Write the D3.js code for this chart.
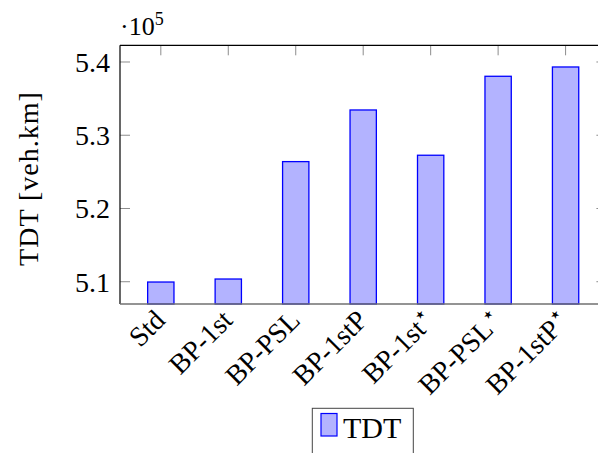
<!DOCTYPE html>
<html>
<head>
<meta charset="utf-8">
<script src="https://cdn.jsdelivr.net/npm/d3@7"></script>
<style>
  html, body { margin: 0; padding: 0; background: #fff; }
  svg { display: block; }
  text { font-family: "Liberation Serif", "DejaVu Serif", serif; fill: #000; }
</style>
</head>
<body>
<script>
// ---- data ----
const categories = ["Std", "BP-1st", "BP-PSL", "BP-1stP", "BP-1st", "BP-PSL", "BP-1stP"];
const starred = [false, false, false, false, true, true, true];
const tdtValues = [5.0996, 5.1037, 5.2640, 5.3345, 5.2727, 5.3805, 5.3932]; // x 10^5 veh.km
const yTicks = [5.1, 5.2, 5.3, 5.4];
const yTickLabels = ["5.1", "5.2", "5.3", "5.4"];
const seriesName = "TDT";
const yLabel = "TDT [veh.km]";

const W = 598, H = 453;
const pLeft = 120, pRight = 606.4, pTop = 45.3, pBottom = 304;

const svg = d3.select("body").append("svg").attr("width", W).attr("height", H);

const x = d3.scaleBand().domain(d3.range(categories.length))
  .range([pLeft, pRight]).paddingInner(0.61).paddingOuter(0.41);
const y = d3.scaleLinear().domain([5.0696, 5.4228]).range([pBottom, pTop]);

const FS = 28;

// bars
svg.append("g").selectAll("rect").data(tdtValues).join("rect")
  .attr("x", (d, i) => x(i))
  .attr("width", x.bandwidth())
  .attr("y", d => y(d))
  .attr("height", d => pBottom - y(d))
  .attr("fill", "#b3b3ff")
  .attr("stroke", "#0000ff")
  .attr("stroke-width", 1.3);

// ticks y (left & right)
const tickCol = "#8c8c8c";
const tl = 10;
svg.append("g").selectAll("line").data(yTicks).join("line")
  .attr("x1", pLeft).attr("x2", pLeft + tl)
  .attr("y1", d => y(d)).attr("y2", d => y(d))
  .attr("stroke", tickCol).attr("stroke-width", 1);
svg.append("g").selectAll("line").data(yTicks).join("line")
  .attr("x1", pRight).attr("x2", pRight - tl)
  .attr("y1", d => y(d)).attr("y2", d => y(d))
  .attr("stroke", tickCol).attr("stroke-width", 1);
// top x ticks
svg.append("g").selectAll("line").data(d3.range(categories.length)).join("line")
  .attr("x1", i => x(i) + x.bandwidth() / 2).attr("x2", i => x(i) + x.bandwidth() / 2)
  .attr("y1", pTop).attr("y2", pTop + tl)
  .attr("stroke", tickCol).attr("stroke-width", 1);

// axis lines
svg.append("line").attr("x1", pLeft).attr("x2", pRight).attr("y1", pTop).attr("y2", pTop)
  .attr("stroke", "#000").attr("stroke-width", 1.2);
svg.append("line").attr("x1", pLeft).attr("x2", pLeft).attr("y1", pTop).attr("y2", pBottom)
  .attr("stroke", "#000").attr("stroke-width", 1.2);
svg.append("line").attr("x1", pRight).attr("x2", pRight).attr("y1", pTop).attr("y2", pBottom)
  .attr("stroke", "#000").attr("stroke-width", 1.2);
svg.append("line").attr("x1", pLeft).attr("x2", pRight).attr("y1", pBottom).attr("y2", pBottom)
  .attr("stroke", "#707070").attr("stroke-width", 1.5);

// y tick labels
svg.append("g").selectAll("text").data(yTicks).join("text")
  .attr("x", pLeft - 10).attr("y", d => y(d))
  .attr("dy", "0.35em")
  .attr("text-anchor", "end")
  .attr("font-size", FS)
  .text((d, i) => yTickLabels[i]);

// multiplier
const mult = svg.append("text").attr("x", pLeft).attr("y", 35).attr("font-size", 26);
mult.append("tspan").text("·10");
mult.append("tspan").attr("font-size", 18).attr("dy", -10).text("5");

// x tick labels
const xl = svg.append("g").selectAll("text").data(categories).join("text")
  .attr("text-anchor", "end")
  .attr("font-size", FS)
  .attr("transform", (d, i) => `translate(${x(i) + x.bandwidth() / 2 - 9},${pBottom + 3}) rotate(-45)`)
  .attr("dy", "0.75em");
xl.append("tspan").text(d => d);
xl.filter((d, i) => starred[i]).append("tspan")
  .attr("font-size", FS * 0.75).attr("dy", -10).text("⋆");

// y axis label
svg.append("text")
  .attr("transform", `translate(38,178.5) rotate(-90)`)
  .attr("text-anchor", "middle")
  .attr("font-size", FS)
  .attr("letter-spacing", 1)
  .text(yLabel);

// legend
svg.append("rect").attr("x", 312.3).attr("y", 408.3).attr("width", 101).attr("height", 60)
  .attr("fill", "#fff").attr("stroke", "#444").attr("stroke-width", 1);
svg.append("rect").attr("x", 321).attr("y", 413.5).attr("width", 16).attr("height", 22.5)
  .attr("fill", "#b3b3ff").attr("stroke", "#0000ff").attr("stroke-width", 1.2);
svg.append("text").attr("x", 343).attr("y", 437.5).attr("font-size", 30).text(seriesName);
</script>
</body>
</html>
